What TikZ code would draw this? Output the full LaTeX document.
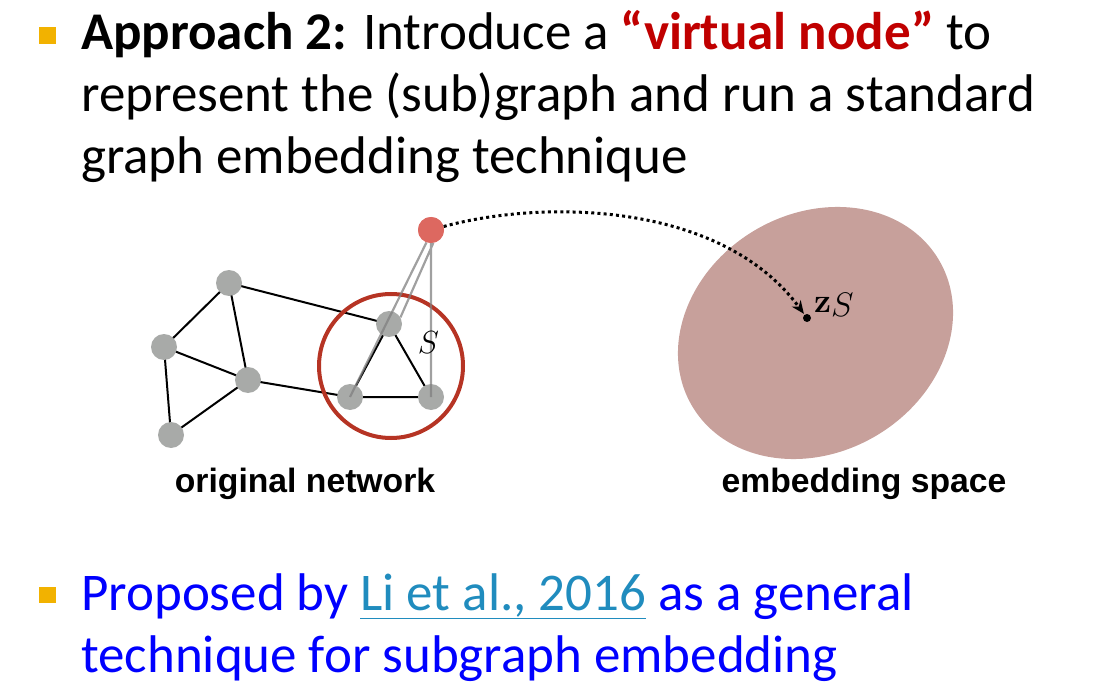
\RequirePackage{fix-cm}
\documentclass[tikz,border=0pt]{standalone}
\usepackage[no-math]{fontspec}
\setmainfont{Carlito}
\newfontfamily\hv{Liberation Sans}
\usetikzlibrary{arrows.meta,shapes.geometric}
\definecolor{bulletc}{RGB}{242,178,0}
\definecolor{vred}{RGB}{192,0,0}
\definecolor{tblue}{RGB}{0,0,255}
\definecolor{linkc}{RGB}{32,140,190}
\definecolor{gnode}{RGB}{168,170,168}
\definecolor{rnode}{RGB}{221,104,96}
\definecolor{ring}{RGB}{182,52,36}
\definecolor{embc}{RGB}{199,160,155}
\begin{document}
\begin{tikzpicture}[x=1pt,y=-1pt,
  txt/.style={anchor=base west,inner sep=0pt,font=\fontsize{53}{62}\selectfont},
  bul/.style={fill=bulletc,draw=none},
  gn/.style={circle,fill=gnode,draw=none,minimum size=26pt,inner sep=0pt},
  vn/.style={circle,fill=rnode,draw=none,minimum size=26pt,inner sep=0pt},
  edge/.style={line width=2pt,black},
  vedge/.style={line width=2.2pt,gray,opacity=0.75},
  lab/.style={anchor=base,inner sep=0pt,font=\hv\bfseries\fontsize{33.7}{40}\selectfont},
  dotarrow/.style={line width=3pt,dash pattern=on 3pt off 3.2pt,-{Stealth[length=13pt,width=11pt]},shorten >=1pt}
]
\useasboundingbox (0,0) rectangle (1114,687);

% top bullet and text
\fill[bul] (39,27) rectangle (56,44);
\node[txt] (t1) at (81,50) {\textbf{Approach 2:} Introduce a \textbf{\color{vred}“virtual node”} to};
\node[txt] (t2) at (81,112) {represent the (sub)graph and run a standard};
\node[txt] (t3) at (81,174) {graph embedding technique};

% bottom bullet and text
\fill[bul] (39,587) rectangle (56,603);
\node[txt,text=tblue] (b1) at (81,610) {Proposed by {\color{linkc}\underline{Li et al., 2016}} as a general};
\node[txt,text=tblue] (b2) at (81,672) {technique for subgraph embedding};

% graph
\coordinate (c1) at (229,283);
\coordinate (c2) at (164,347);
\coordinate (c3) at (248,380);
\coordinate (c4) at (171,435);
\coordinate (c5) at (389,324);
\coordinate (c6) at (350,397);
\coordinate (c7) at (431,397);
\draw[edge] (c1) -- (c2) (c1) -- (c3) (c1) -- (c5) (c2) -- (c3) (c2) -- (c4)
  (c4) -- (c3) (c3) -- (c6) (c5) -- (c6) (c5) -- (c7) (c6) -- (c7);
\foreach \i in {1,...,7} \node[gn] (n\i) at (c\i) {};
\node[circle,draw=ring,line width=4pt,minimum width=144pt,minimum height=144pt,inner sep=0pt] (ringS) at (391,366) {};
\node[vn] (v) at (431,230) {};
\draw[vedge] (v.250) -- (n6.center) (v.280) -- (n5.30) (v.center) -- (n7.center);
\node[vn] (v2) at (v.center) {};
\node[inner sep=0pt,font=\fontsize{32}{36}\selectfont] (S) at (428.5,342.5) {$S$};

\node[lab] (lo) at (305,492) {original network};

% embedding space
\node[ellipse,fill=embc,draw=none,minimum width=286.8pt,minimum height=238.6pt,inner sep=0pt,rotate=30.7] (emb) at (815.5,333) {};
\node[circle,fill=black,minimum size=8pt,inner sep=0pt] (zdot) at (807,318) {};
\node[anchor=base west,inner sep=0pt,font=\fontsize{34}{38}\selectfont] (zs) at (814,312) {{\usefont{OT1}{cmr}{bx}{n}z}\raisebox{-5pt}{$S$}};
\node[lab] (le) at (864,492) {embedding space};

\draw[dotarrow] (v) .. controls (540,200) and (720,200) .. (zdot);
\end{tikzpicture}
\end{document}
